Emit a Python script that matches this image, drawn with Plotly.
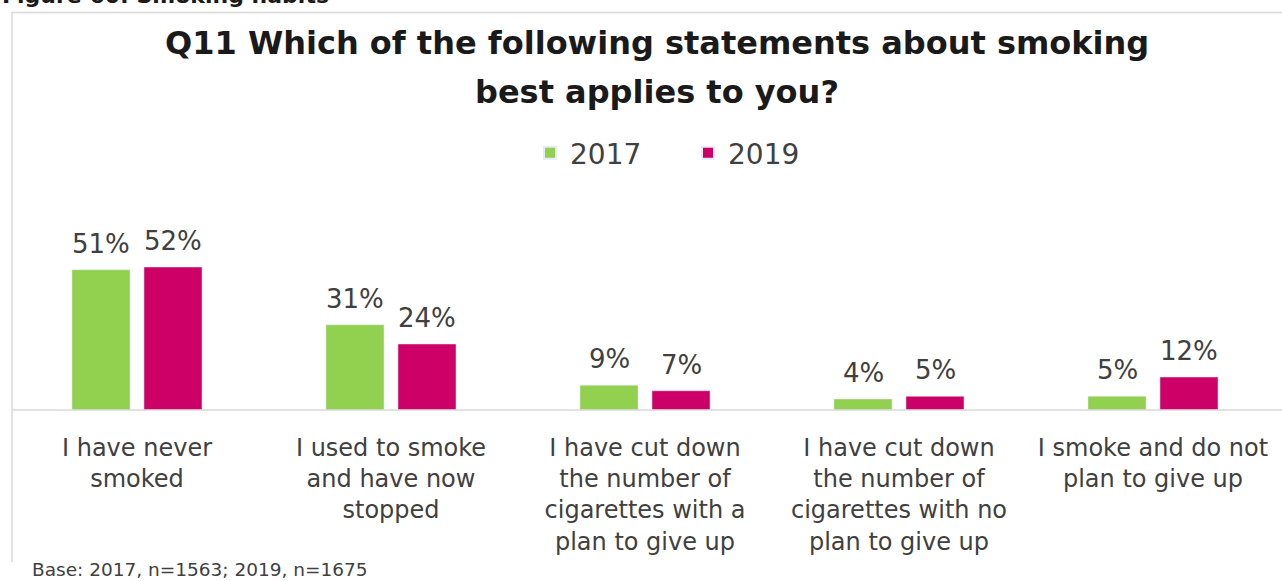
import plotly.graph_objects as go

categories = [
    "I have never<br>smoked",
    "I used to smoke<br>and have now<br>stopped",
    "I have cut down<br>the number of<br>cigarettes with a<br>plan to give up",
    "I have cut down<br>the number of<br>cigarettes with no<br>plan to give up",
    "I smoke and do not<br>plan to give up",
]
values_2017 = [51, 31, 9, 4, 5]
values_2019 = [52, 24, 7, 5, 12]
series_names = ["2017", "2019"]

FONT = "DejaVu Sans"
TXT = "#404040"
GREEN = "#92D050"
PINK = "#CC0066"

W, H = 1282, 581
plot_left, plot_right = 10, 1280
plot_top, plot_bottom = 245, 410
y_max = 60

fig = go.Figure()
series = [(series_names[0], values_2017, GREEN, -36), (series_names[1], values_2019, PINK, 36)]
annotations = []
for name, vals, col, shift in series:
    fig.add_trace(go.Bar(name=name, x=categories, y=vals, marker_color=col, cliponaxis=False))
    for c, v in zip(categories, vals):
        annotations.append(dict(x=c, y=v, xref="x", yref="y", text=f"{v}%", showarrow=False,
                                xshift=shift, yshift=9, yanchor="bottom", xanchor="center",
                                font=dict(family=FONT, size=26, color=TXT)))

def py(pix):
    return (plot_bottom - pix) / (plot_bottom - plot_top)

def px(pix):
    return (pix - plot_left) / (plot_right - plot_left)

annotations += [
    dict(text="<b>Q11 Which of the following statements about smoking</b>", x=px(657), y=py(43),
         xref="paper", yref="paper", showarrow=False, font=dict(family=FONT, size=32, color="#1a1a1a"),
         xanchor="center", yanchor="middle"),
    dict(text="<b>best applies to you?</b>", x=px(657), y=py(92),
         xref="paper", yref="paper", showarrow=False, font=dict(family=FONT, size=32, color="#1a1a1a"),
         xanchor="center", yanchor="middle"),
    dict(text="<b>Figure 60: Smoking habits</b>", x=px(0), y=py(-4),
         xref="paper", yref="paper", showarrow=False, font=dict(family=FONT, size=22, color="#1a1a1a"),
         xanchor="left", yanchor="middle"),
    dict(text="Base: 2017, n=1563; 2019, n=1675", x=px(30), y=py(569),
         xref="paper", yref="paper", showarrow=False, font=dict(family=FONT, size=18.5, color=TXT),
         xanchor="left", yanchor="middle"),
]

shapes = [
    dict(type="line", xref="paper", yref="paper", x0=px(12), x1=px(1290), y0=py(12.5), y1=py(12.5),
         line=dict(color="#d9d9d9", width=1.5)),
    dict(type="line", xref="paper", yref="paper", x0=px(12), x1=px(12), y0=py(12), y1=py(562),
         line=dict(color="#d9d9d9", width=1.5)),
    dict(type="line", xref="paper", yref="paper", x0=px(12), x1=px(1290), y0=0, y1=0,
         line=dict(color="#d9d9d9", width=1.5)),
]

fig.update_layout(
    width=W, height=H,
    margin=dict(l=plot_left, r=W - plot_right, t=plot_top, b=H - plot_bottom, pad=0),
    paper_bgcolor="white", plot_bgcolor="white",
    barmode="group", bargap=0.433, bargroupgap=0.194,
    font=dict(family=FONT, color=TXT),
    showlegend=True,
    legend=dict(orientation="h", x=px(530), y=py(153), xanchor="left", yanchor="middle",
                font=dict(family=FONT, size=28, color=TXT), itemsizing="constant",
                entrywidth=113, entrywidthmode="pixels",
                bgcolor="rgba(0,0,0,0)"),
    xaxis=dict(showline=False, ticks="", showgrid=False, zeroline=False,
               tickfont=dict(family=FONT, size=24, color=TXT), tickangle=0, fixedrange=True,
               ticklabelstandoff=21),
    yaxis=dict(range=[0, y_max], visible=False, showgrid=False, zeroline=False, fixedrange=True),
    annotations=annotations, shapes=shapes,
)

fig.write_html("out.html", config={"displayModeBar": False},
               post_script="document.body.style.margin='0';document.body.style.overflow='hidden';")
